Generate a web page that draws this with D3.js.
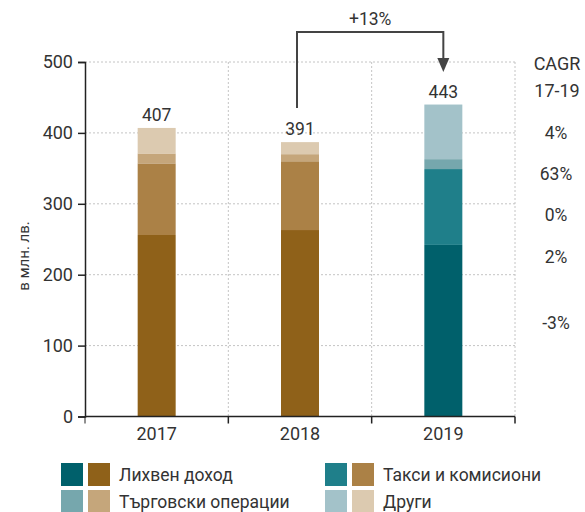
<!DOCTYPE html>
<html lang="bg">
<head>
<meta charset="utf-8">
<script src="https://cdn.jsdelivr.net/npm/d3@7"></script>
<style>
  body { margin: 0; background: #fff; }
  svg text { font-family: Roboto, "Noto Sans", sans-serif; fill: #333; }
</style>
</head>
<body>
<div id="chart-area"></div>
<script>
// data
var years = ["2017", "2018", "2019"];
var series = ["interest", "fees", "trading", "other"];
var seriesNames = ["Лихвен доход", "Такси и комисиони", "Търговски операции", "Други"];
var interest = [256, 263, 242];
var fees = [101, 97, 107];
var trading = [14, 10, 14];
var other = [36, 17, 77];
var totals = ["407", "391", "443"];
var cagr = ["4%", "63%", "0%", "2%", "-3%"];
var yTicks = [0, 100, 200, 300, 400, 500];
var growthLabel = "+13%";

var brown = ["#8f6119", "#ab8146", "#c5a67b", "#dccab0"];
var teal = ["#00606b", "#1f7f8a", "#76a7ad", "#a3c2c9"];

var svg = d3.select("#chart-area").append("svg")
    .attr("width", 585)
    .attr("height", 512);

var x = d3.scaleBand()
    .domain(years)
    .range([85, 515]);

var y = d3.scaleLinear()
    .domain([0, 500])
    .range([416.5, 62]);

var table = years.map((yr, i) => {
  return {year: yr, interest: interest[i], fees: fees[i], trading: trading[i], other: other[i]};
});
var stacked = d3.stack().keys(series)(table);

// grid
svg.append("g").selectAll("line.h")
  .data(yTicks.filter(d => d > 0))
  .enter().append("line")
    .attr("x1", 85).attr("x2", 515)
    .attr("y1", d => y(d)).attr("y2", d => y(d))
    .attr("stroke", "#c4c4c4").attr("stroke-dasharray", "2,2");
svg.append("g").selectAll("line.v")
  .data(years)
  .enter().append("line")
    .attr("x1", d => x(d) + x.bandwidth()).attr("x2", d => x(d) + x.bandwidth())
    .attr("y1", y(500)).attr("y2", y(0))
    .attr("stroke", "#c4c4c4").attr("stroke-dasharray", "2,2");

// bars
var barW = 38;
stacked.forEach((layer, k) => {
  svg.append("g").selectAll("rect")
    .data(layer)
    .enter().append("rect")
      .attr("x", d => x(d.data.year) + x.bandwidth() / 2 - barW / 2)
      .attr("y", d => y(d[1]))
      .attr("width", barW)
      .attr("height", d => y(d[0]) - y(d[1]))
      .attr("fill", d => (d.data.year == "2019" ? teal : brown)[k]);
});

// total labels
var topLayer = stacked[stacked.length - 1];
svg.append("g").selectAll("text")
  .data(topLayer)
  .enter().append("text")
    .attr("x", d => x(d.data.year) + x.bandwidth() / 2)
    .attr("y", d => y(d[1]) - 7)
    .attr("text-anchor", "middle")
    .attr("font-size", 17.5)
    .text((d, i) => totals[i]);

// axes
var yAxis = svg.append("g")
    .attr("transform", "translate(85,0)")
    .call(d3.axisLeft(y).tickValues(yTicks).tickSize(7).tickPadding(5));
var xAxis = svg.append("g")
    .attr("transform", "translate(0," + y(0) + ")")
    .call(d3.axisBottom(x).tickSize(0).tickPadding(11));
xAxis.selectAll(".tick").append("line")
    .attr("x1", x.bandwidth() / 2).attr("x2", x.bandwidth() / 2)
    .attr("y1", 0).attr("y2", 7)
    .attr("stroke", "#222");
xAxis.append("line")
    .attr("x1", 85).attr("x2", 85).attr("y1", 0).attr("y2", 7)
    .attr("stroke", "#222");
[yAxis, xAxis].forEach(a => {
  a.select(".domain").attr("stroke", "#222").attr("stroke-width", 1.5);
  a.selectAll(".tick line").attr("stroke", "#222").attr("stroke-width", 1.5);
  a.selectAll("text").attr("font-size", 18).attr("fill", "#333")
    .attr("font-family", "Roboto, 'Noto Sans', sans-serif");
});
xAxis.select(".domain").attr("d", "M85,0H515");

svg.append("text")
    .attr("transform", "translate(29,256) rotate(-90)")
    .attr("text-anchor", "middle")
    .attr("font-size", 15)
    .text("в млн. лв.");

// growth arrow 2018 -> 2019
var ax1 = 297, ax2 = x("2019") + x.bandwidth() / 2;
svg.append("path")
    .attr("d", "M" + ax1 + ",108V32H" + ax2 + "V62")
    .attr("fill", "none").attr("stroke", "#444").attr("stroke-width", 2);
svg.append("path")
    .attr("d", "M" + (ax2 - 6) + ",58L" + (ax2 + 6) + ",58L" + ax2 + ",72Z")
    .attr("fill", "#444");
svg.append("text")
    .attr("x", (ax1 + ax2) / 2).attr("y", 25)
    .attr("text-anchor", "middle").attr("font-size", 17.5)
    .text(growthLabel);

// CAGR column
svg.append("text").attr("x", 557).attr("y", 70)
    .attr("text-anchor", "middle").attr("font-size", 18).text("CAGR");
svg.append("text").attr("x", 557).attr("y", 97)
    .attr("text-anchor", "middle").attr("font-size", 18).text("17-19");
var cagrY = [133, 174, 215, 257, 323];
svg.append("g").selectAll("text")
  .data(cagr)
  .enter().append("text")
    .attr("x", 556)
    .attr("y", (d, i) => cagrY[i])
    .attr("dy", "0.35em")
    .attr("text-anchor", "middle")
    .attr("font-size", 17.5)
    .text(d => d);

// legend
var legendOrder = [0, 1, 2, 3];
var legend = svg.append("g").selectAll("g")
  .data(legendOrder)
  .enter().append("g")
    .attr("transform", (d, i) => "translate(" + (i % 2 ? 325 : 61) + "," + (i < 2 ? 463 : 490) + ")");
legend.append("rect").attr("width", 22).attr("height", 23).attr("fill", d => teal[d]);
legend.append("rect").attr("x", 27).attr("width", 22).attr("height", 23).attr("fill", d => brown[d]);
legend.append("text")
    .attr("x", 58).attr("y", 12).attr("dy", "0.35em")
    .attr("font-size", 17.5)
    .text(d => seriesNames[d]);
</script>
</body>
</html>
